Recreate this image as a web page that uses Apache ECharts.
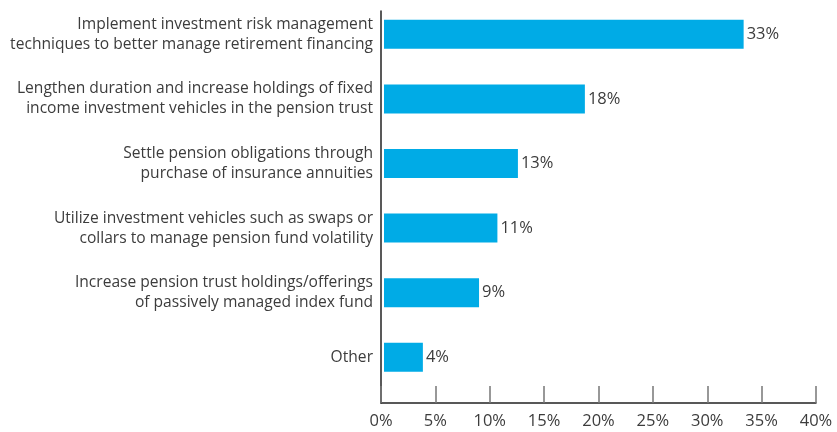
<!DOCTYPE html>
<html><head><meta charset="utf-8">
<script src="https://cdn.jsdelivr.net/npm/echarts@6/dist/echarts.min.js"></script>
<style>html,body{margin:0;padding:0;background:#fff}#c{width:837px;height:432px}</style>
</head><body><div id="c"></div>
<script>
const categories = [
  'Implement investment risk management\ntechniques to better manage retirement financing',
  'Lengthen duration and increase holdings of fixed\nincome investment vehicles in the pension trust',
  'Settle pension obligations through\npurchase of insurance annuities',
  'Utilize investment vehicles such as swaps or\ncollars to manage pension fund volatility',
  'Increase pension trust holdings/offerings\nof passively managed index fund',
  'Other'
];
const values = [33.3, 18.6, 12.4, 10.5, 8.8, 3.6];
const valueLabels = ['33%', '18%', '13%', '11%', '9%', '4%'];
const axisMin = 0, axisMax = 40, axisStep = 5;

const FONT = '"Open Sans", sans-serif';
const TXT = '#3c3c3c';
const chart = echarts.init(document.getElementById('c'), null, {renderer: 'canvas'});
chart.setOption({
  animation: false,
  backgroundColor: '#fff',
  grid: [
    {left: 381, right: 21, top: 11, bottom: 29},
    {left: 384, right: 21, top: 2, bottom: 42.4}
  ],
  xAxis: [
    {
      gridIndex: 0, type: 'value', min: axisMin, max: axisMax, interval: axisStep,
      axisLine: {show: true, onZero: false, lineStyle: {color: '#222', width: 1.5}},
      axisTick: {show: true, inside: true, length: 17, lineStyle: {color: '#777', width: 1.5}},
      axisLabel: {formatter: '{value}%', color: TXT, fontSize: 16.5, fontFamily: FONT, margin: 10},
      splitLine: {show: false}
    },
    {gridIndex: 1, type: 'value', min: axisMin, max: axisMax, show: false}
  ],
  yAxis: [
    {
      gridIndex: 0, type: 'value', min: 0, max: 1,
      axisLine: {show: true, onZero: false, lineStyle: {color: '#222', width: 1.5}},
      axisTick: {show: false}, axisLabel: {show: false}, splitLine: {show: false}
    },
    {
      gridIndex: 1, type: 'category', inverse: true, data: categories,
      axisLine: {show: false}, axisTick: {show: false}, splitLine: {show: false},
      axisLabel: {color: TXT, fontSize: 15.6, fontFamily: FONT, lineHeight: 20, margin: 11, align: 'right'}
    }
  ],
  series: [{
    type: 'bar', xAxisIndex: 1, yAxisIndex: 1,
    data: values, barWidth: 29,
    itemStyle: {color: '#00abe6'},
    label: {
      show: true, position: 'right', distance: 3,
      color: TXT, fontSize: 16.5, fontFamily: FONT,
      formatter: p => valueLabels[p.dataIndex]
    }
  }]
});
</script></body></html>
